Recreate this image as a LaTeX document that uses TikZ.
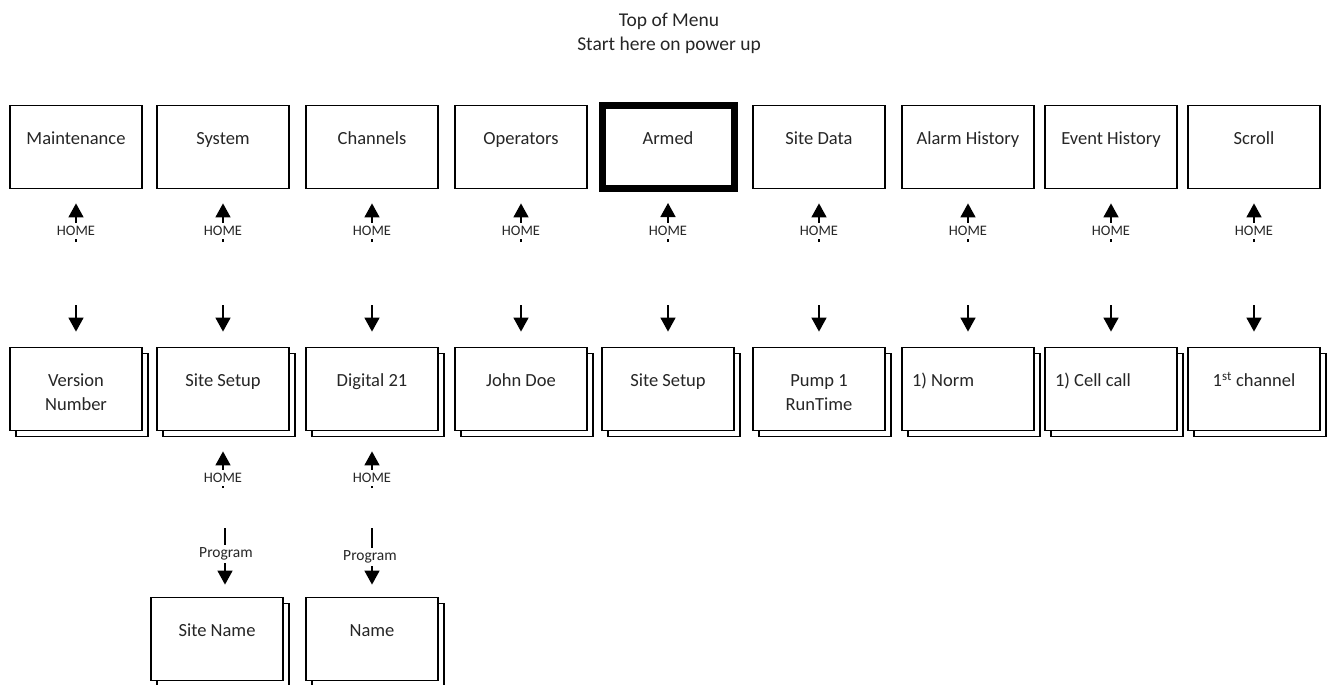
\documentclass[tikz,border=0pt]{standalone}
\usepackage{fontspec}
\setmainfont{Carlito}
\usetikzlibrary{arrows.meta,shadows}

\def\hd{Triangle[width=15pt,length=14pt]}

\begin{document}
\begin{tikzpicture}[x=1pt, y=-1pt, line width=1.8pt, text=black!85,
	menu/.style={rectangle,draw,fill=white,minimum width=132pt,inner sep=0,text height=39pt,text depth=44pt,align=center,font=\fontsize{18.5}{23.5}\selectfont},
	sub/.style={menu,copy shadow={shadow xshift=6pt,shadow yshift=-6pt}},
	two/.style={text height=62.5pt,text depth=20.5pt},
	lft/.style={text width=112pt,align=flush left},
	key/.style={fill=white,inner xsep=1pt,inner ysep=3pt,font=\fontsize{14.5}{14.5}\selectfont},
	up/.style={-{\hd},line width=1.6pt},
	down/.style={-{\hd},line width=1.6pt}]
		\useasboundingbox (0,0) rectangle (1328,685);
		
		\node (TOP) at (669,33) [align=center,font=\fontsize{19.5}{24}\selectfont] {Top of Menu\\Start here on power up};
		
		\node (MNT) at (76,147) [menu] {Maintenance};
		\node (SYS) at (223,147) [menu] {System};
		\node (CHN) at (372,147) [menu] {Channels};
		\node (OPR) at (521,147) [menu] {Operators};
		\node (ARM) at (668,147) [menu,line width=7pt] {Armed};
		\node (SDT) at (819,147) [menu] {Site Data};
		\node (ALH) at (968,147) [menu] {Alarm History};
		\node (EVH) at (1111,147) [menu] {Event History};
		\node (SCR) at (1254,147) [menu] {Scroll};
		
		\node (VER) at (76,389) [sub,two] {Version\\Number};
		\node (SSU) at (223,389) [sub] {Site Setup};
		\node (DIG) at (372,389) [sub] {Digital 21};
		\node (JDO) at (521,389) [sub] {John Doe};
		\node (SSA) at (668,389) [sub] {Site Setup};
		\node (PMP) at (819,389) [sub,two] {Pump 1\\RunTime};
		\node (NRM) at (968,389) [sub,lft] {1) Norm};
		\node (CEL) at (1111,389) [sub,lft] {1) Cell call};
		\node (FST) at (1254,389) [sub] {1\textsuperscript{st} channel};
		
		\node (SNM) at (217,639) [sub] {Site Name};
		\node (NAM) at (372,639) [sub] {Name};
		
		\coordinate (hA) at (76,242);
		\coordinate (hB) at (223,242);
		\coordinate (hC) at (372,242);
		\coordinate (hD) at (521,242);
		\coordinate (hE) at (668,242);
		\coordinate (hF) at (819,242);
		\coordinate (hG) at (968,242);
		\coordinate (hH) at (1111,242);
		\coordinate (hI) at (1254,242);
		\coordinate (hJ) at (223,488);
		\coordinate (hK) at (372,488);
		
		\coordinate (dA) at (76,305);
		\coordinate (dB) at (223,305);
		\coordinate (dC) at (372,305);
		\coordinate (dD) at (521,305);
		\coordinate (dE) at (668,305);
		\coordinate (dF) at (819,305);
		\coordinate (dG) at (968,305);
		\coordinate (dH) at (1111,305);
		\coordinate (dI) at (1254,305);
		
		\coordinate (pA) at (225,528);
		\coordinate (pB) at (372,528);
		
		\draw[up,shorten >=14pt] (hA) to (MNT);
		\draw[up,shorten >=14pt] (hB) to (SYS);
		\draw[up,shorten >=14pt] (hC) to (CHN);
		\draw[up,shorten >=14pt] (hD) to (OPR);
		\draw[up,shorten >=11pt] (hE) to (ARM);
		\draw[up,shorten >=14pt] (hF) to (SDT);
		\draw[up,shorten >=14pt] (hG) to (ALH);
		\draw[up,shorten >=14pt] (hH) to (EVH);
		\draw[up,shorten >=14pt] (hI) to (SCR);
		\draw[up,shorten >=20pt] (hJ) to (SSU);
		\draw[up,shorten >=20pt] (hK) to (DIG);
		
		\draw[down,shorten >=15pt] (dA) to (VER);
		\draw[down,shorten >=15pt] (dB) to (SSU);
		\draw[down,shorten >=15pt] (dC) to (DIG);
		\draw[down,shorten >=15pt] (dD) to (JDO);
		\draw[down,shorten >=15pt] (dE) to (SSA);
		\draw[down,shorten >=15pt] (dF) to (PMP);
		\draw[down,shorten >=15pt] (dG) to (NRM);
		\draw[down,shorten >=15pt] (dH) to (CEL);
		\draw[down,shorten >=15pt] (dI) to (FST);
		
		\draw[down,shorten >=12pt] (pA) to (pA |- SNM.north);
		\draw[down,shorten >=12pt] (pB) to (NAM);
		
		\node (HA) at (76,231) [key] {HOME};
		\node (HB) at (223,231) [key] {HOME};
		\node (HC) at (372,231) [key] {HOME};
		\node (HD) at (521,231) [key] {HOME};
		\node (HE) at (668,231) [key] {HOME};
		\node (HF) at (819,231) [key] {HOME};
		\node (HG) at (968,231) [key] {HOME};
		\node (HH) at (1111,231) [key] {HOME};
		\node (HI) at (1254,231) [key] {HOME};
		\node (HJ) at (223,478) [key] {HOME};
		\node (HK) at (372,478) [key] {HOME};
		
		\node (PA) at (226,554) [key,font=\fontsize{15.5}{15.5}\selectfont] {Program};
		\node (PB) at (370,557) [key,font=\fontsize{15.5}{15.5}\selectfont] {Program};
		
	\end{tikzpicture}
\end{document}
